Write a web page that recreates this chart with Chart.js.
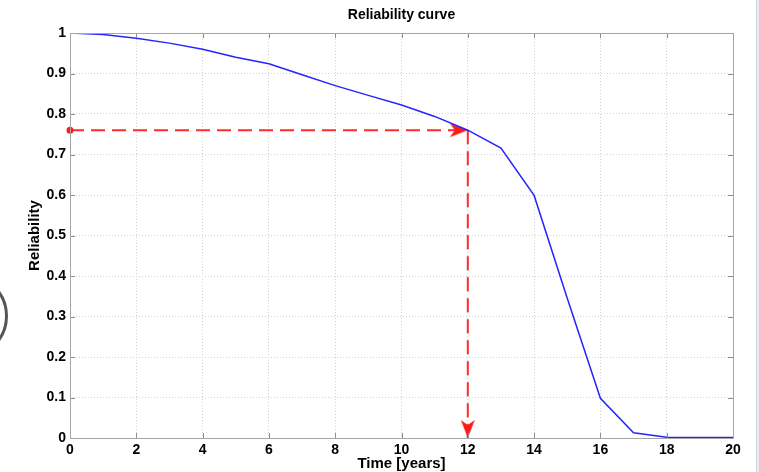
<!DOCTYPE html>
<html>
<head>
<meta charset="utf-8">
<script src="https://cdn.jsdelivr.net/npm/chart.js@4"></script>
<style>
    html, body { margin: 0; padding: 0; background: #fff; overflow: hidden; }
    #wrap { position: relative; width: 759px; height: 472px; }
    #ring {
        position: absolute; left: -78px; top: 273px;
        width: 86px; height: 86px; border-radius: 50%;
        border: 3px solid #555; box-sizing: border-box;
    }
    #edge {
        position: absolute; left: 756px; top: 0; width: 3px; height: 472px;
        background: #e6edf5; border-left: 1px solid #d0d6de; box-sizing: border-box;
    }
</style>
</head>
<body>
<div id="wrap">
    <canvas id="chart" width="759" height="472"></canvas>
    <div id="ring"></div>
    <div id="edge"></div>
</div>
<script>
// Reliability over time
const timeYears = [0, 1, 2, 3, 4, 5, 6, 7, 8, 9, 10, 11, 12, 13, 14, 15, 16, 17, 18, 19, 20];
const reliability = [1.000, 0.996, 0.987, 0.975, 0.960, 0.940, 0.924, 0.897, 0.870, 0.846, 0.822,
    0.794, 0.760, 0.716, 0.599, 0.345, 0.098, 0.013, 0.002, 0.001, 0.001];

// Read-off point marked by the dashed arrows
const markTime = 12;
const markReliability = 0.76;

const FONT = '"Liberation Sans", Arial, Helvetica, sans-serif';

// MATLAB style arrowhead, tip at the centre of the image
function makeArrow() {
    const c = document.createElement('canvas');
    c.width = 40;
    c.height = 20;
    const ctx = c.getContext('2d');
    ctx.fillStyle = '#ff1a1a';
    ctx.beginPath();
    ctx.moveTo(20, 10);
    ctx.lineTo(2, 3);
    ctx.lineTo(7, 10);
    ctx.lineTo(2, 17);
    ctx.closePath();
    ctx.fill();
    return c;
}
const arrowImg = makeArrow();

// box round the axes and MATLAB ticks pointing inwards
const boxPlugin = {
    id: 'axesBox',
    afterDraw: (chart) => {
        const ctx = chart.ctx;
        const { left, right, top, bottom } = chart.chartArea;
        const xs = chart.scales.x;
        const ys = chart.scales.y;
        const len = 5;
        ctx.save();
        ctx.strokeStyle = '#8c8c8c';
        ctx.lineWidth = 1;
        ctx.beginPath();
        xs.ticks.forEach((t) => {
            const px = Math.round(xs.getPixelForValue(t.value)) + 0.5;
            ctx.moveTo(px, bottom);
            ctx.lineTo(px, bottom - len);
            ctx.moveTo(px, top);
            ctx.lineTo(px, top + len);
        });
        ys.ticks.forEach((t) => {
            const py = Math.round(ys.getPixelForValue(t.value)) + 0.5;
            ctx.moveTo(left, py);
            ctx.lineTo(left + len, py);
            ctx.moveTo(right, py);
            ctx.lineTo(right - len, py);
        });
        ctx.stroke();
        ctx.strokeStyle = '#a6a6a6';
        ctx.strokeRect(Math.round(left) + 0.5, Math.round(top) + 0.5,
            Math.round(right - left), Math.round(bottom - top));
        ctx.restore();
    },
};

new Chart(document.getElementById('chart'), {
    type: 'line',
    data: {
        datasets: [
            {
                label: 'Reliability',
                data: timeYears.map((t, i) => ({ x: t, y: reliability[i] })),
                borderColor: '#2424ff',
                borderWidth: 1.5,
                pointRadius: 0,
                tension: 0,
            },
            {
                label: 'read across',
                data: [
                    { x: 0, y: markReliability },
                    { x: markTime, y: markReliability },
                ],
                borderColor: '#ff2a2a',
                backgroundColor: '#ff1a1a',
                borderWidth: 2,
                borderDash: [14, 7],
                pointStyle: ['circle', arrowImg],
                pointRadius: [3.5, 10],
                pointBorderWidth: 0,
                clip: false,
            },
            {
                label: 'read down',
                data: [
                    { x: markTime, y: markReliability },
                    { x: markTime, y: 0 },
                ],
                borderColor: '#ff2a2a',
                backgroundColor: '#ff1a1a',
                borderWidth: 2,
                borderDash: [14, 7],
                pointStyle: [false, arrowImg],
                pointRadius: [0, 10],
                pointRotation: [0, 90],
                pointBorderWidth: 0,
                clip: false,
            },
        ],
    },
    plugins: [boxPlugin],
    options: {
        responsive: false,
        animation: false,
        layout: { padding: { left: 0, right: 26, top: 0, bottom: 0 } },
        plugins: {
            legend: { display: false },
            tooltip: { enabled: false },
        },
        scales: {
            // top axis only carries the title, so it is centred over the axes box
            top: {
                type: 'linear',
                position: 'top',
                min: 0,
                max: 20,
                afterFit: (scale) => { scale.height = 33; },
                ticks: { display: false },
                grid: { display: false },
                border: { display: false },
                title: {
                    display: true,
                    text: 'Reliability curve',
                    color: '#000',
                    font: { family: FONT, size: 14, weight: 'bold' },
                    padding: { top: 6.6, bottom: 0 },
                },
            },
            x: {
                type: 'linear',
                min: 0,
                max: 20,
                afterFit: (scale) => { scale.height = 34; },
                ticks: {
                    stepSize: 2,
                    padding: 4,
                    maxRotation: 0,
                    color: '#000',
                    font: { family: FONT, size: 14, weight: 'bold' },
                },
                grid: { color: '#d2d2d2', drawTicks: false },
                border: { display: false, dash: [1, 2] },
                title: {
                    display: true,
                    text: 'Time [years]',
                    color: '#000',
                    font: { family: FONT, size: 15, weight: 'bold' },
                    padding: { top: 0, bottom: -1 },
                },
            },
            y: {
                min: 0,
                max: 1,
                afterFit: (scale) => { scale.width = 70; },
                ticks: {
                    stepSize: 0.1,
                    padding: 4,
                    color: '#000',
                    font: { family: FONT, size: 14, weight: 'bold' },
                    callback: (value) => String(Number(value.toFixed(1))),
                },
                grid: { color: '#d2d2d2', drawTicks: false },
                border: { display: false, dash: [1, 2] },
                title: {
                    display: true,
                    text: 'Reliability',
                    color: '#000',
                    font: { family: FONT, size: 15, weight: 'bold' },
                    padding: { top: 26, bottom: 0 },
                },
            },
        },
    },
});
</script>
</body>
</html>
